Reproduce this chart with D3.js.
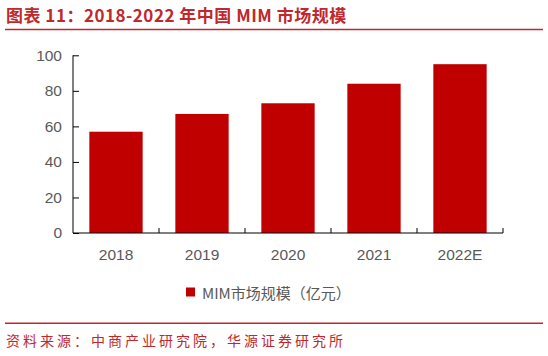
<!DOCTYPE html>
<html><head><meta charset="utf-8">
<script src="https://cdn.jsdelivr.net/npm/d3@7/dist/d3.min.js"></script>
<style>
body{margin:0;background:#fff;}
svg{display:block;}
</style></head>
<body>
<script>
const categories = ["2018","2019","2020","2021","2022E"];
const values = [57, 67, 73, 84, 95];
const yTicks = [0, 20, 40, 60, 80, 100];
const seriesName = "MIM市场规模（亿元）";
const titleText = "图表 11：2018-2022 年中国 MIM 市场规模";
const sourceText = "资料来源：中商产业研究院，华源证券研究所";

(function(){
const W = 548, H = 356;
const svg = d3.select("body").append("svg").attr("width", W).attr("height", H);
const red = "#c0282d";
const gray = "#595959";

// title
svg.append("text").attr("x", 6).attr("y", 22)
  .attr("font-family", "'Noto Sans CJK SC', sans-serif").attr("font-weight", "bold")
  .attr("font-size", 17).attr("letter-spacing", 0.5).attr("fill", red).text(titleText);
svg.append("line").attr("x1", 5).attr("x2", 543).attr("y1", 29.5).attr("y2", 29.5)
  .attr("stroke", red).attr("stroke-width", 1.5);

const pl = 73, pr = 503, pt = 55.3, pb = 233;
const x = d3.scaleBand().domain(categories).range([pl, pr]).paddingInner(0.38).paddingOuter(0.19);
const xb = d3.scaleBand().domain(categories).range([pl, pr]);
const y = d3.scaleLinear().domain([0, 100]).range([pb, pt]);

svg.append("g").selectAll("rect").data(values).join("rect")
  .attr("x", (d, i) => x(categories[i])).attr("width", x.bandwidth())
  .attr("y", d => y(d)).attr("height", d => pb - y(d))
  .attr("fill", "#c00000");

// y axis
const ya = svg.append("g").attr("transform", `translate(${pl},0)`)
  .call(d3.axisLeft(y).tickValues(yTicks).tickSize(-6).tickPadding(11));
ya.select(".domain").attr("stroke", "#000").attr("d", `M0,${pt}V${pb}`);
ya.selectAll(".tick line").attr("stroke", "#000");
ya.selectAll("text").attr("font-family", "'Liberation Sans', Arial, sans-serif").attr("font-size", 15.5).attr("fill", gray);

// x axis
const xa = svg.append("g").attr("transform", `translate(0,${pb})`)
  .call(d3.axisBottom(xb).tickSize(0).tickPadding(16));
xa.select(".domain").attr("stroke", "#000").attr("d", `M${pl},0H${pr}`);
xa.selectAll("text").attr("font-family", "'Liberation Sans', Arial, sans-serif").attr("font-size", 15.5).attr("fill", gray);
svg.append("g").selectAll("line").data(categories).join("line")
  .attr("x1", d => xb(d) + xb.bandwidth()).attr("x2", d => xb(d) + xb.bandwidth())
  .attr("y1", pb).attr("y2", pb - 5).attr("stroke", "#000");

// legend
svg.append("rect").attr("x", 186).attr("y", 287.5).attr("width", 9).attr("height", 9).attr("fill", "#c00000");
svg.append("text").attr("x", 202).attr("y", 299)
  .attr("font-family", "'Noto Sans CJK SC', sans-serif").attr("font-size", 15).attr("fill", gray).text(seriesName);

// bottom line + source
svg.append("line").attr("x1", 5).attr("x2", 543).attr("y1", 323.3).attr("y2", 323.3)
  .attr("stroke", red).attr("stroke-width", 1.5);
svg.append("text").attr("x", 6).attr("y", 346)
  .attr("font-family", "'Noto Sans CJK SC', sans-serif").attr("font-size", 14).attr("letter-spacing", 3)
  .attr("fill", red).text(sourceText);
})();
</script>
</body></html>
